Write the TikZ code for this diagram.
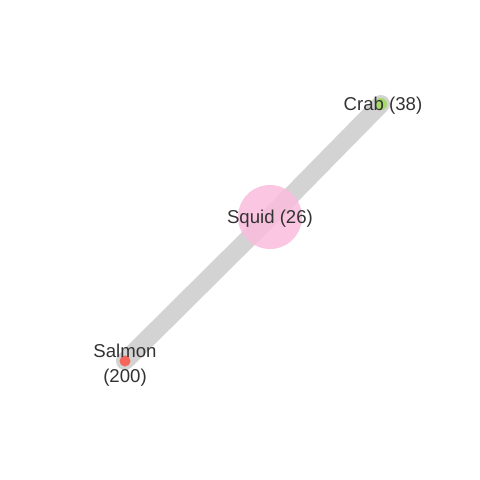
\documentclass[tikz,border=0pt]{standalone}
\usepackage{fontspec}
\setmainfont{Liberation Sans}
\definecolor{edgegray}{HTML}{D3D3D3}
\definecolor{crabc}{HTML}{A6D96A}
\definecolor{squidc}{HTML}{F9BCDD}
\definecolor{salmonc}{HTML}{F4665A}
\definecolor{txt}{HTML}{333333}
\begin{document}
\begin{tikzpicture}[x=1pt,y=-1pt,
  edge/.style={draw=edgegray,line width=18pt,line cap=round},
  vertex/.style={circle,inner sep=0pt},
  lab/.style={text=txt,font=\fontsize{18.6}{25}\selectfont,align=center,inner sep=0pt}]
\useasboundingbox (0,0) rectangle (480,480);
\node[vertex,minimum size=12pt,fill=crabc] (crab) at (381,104) {};
\node[vertex,minimum size=64pt] (squid) at (270,217) {};
\node[vertex,minimum size=11pt,fill=salmonc] (salmon) at (125,361) {};
\draw[edge] (crab.center) -- (squid.center);
\draw[edge] (squid.center) -- (salmon.center);
\fill[squidc,opacity=0.85] (squid.center) circle (32);
\fill[crabc] (crab.center) circle (6);
\fill[salmonc] (salmon.center) circle (5.5);
\node[lab] (crablab) at (383,106) {Crab (38)};
\node[lab] (squidlab) at (270,219) {Squid (26)};
\node[lab] (salmonlab) at (125,365) {Salmon\\(200)};
\end{tikzpicture}
\end{document}
